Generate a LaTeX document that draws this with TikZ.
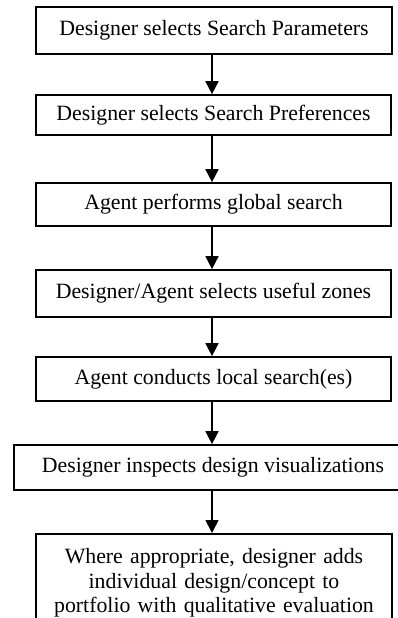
\documentclass[tikz,border=0pt]{standalone}
\usepackage{fontspec}
\setmainfont{Liberation Serif}
\usetikzlibrary{arrows.meta}
\begin{document}
\begin{tikzpicture}[x=1pt,y=-1pt,
  stepbox/.style={draw, line width=1.7pt, inner sep=0pt, align=center,
    font=\fontsize{21.8}{24.5}\selectfont},
  flow/.style={line width=1.7pt, -{Triangle[width=13pt,length=13pt]}}]
\path[use as bounding box] (0,0) rectangle (398,618);
\clip (0,0) rectangle (398,618);
% x position shared by all the arrows
\coordinate (ax) at (212,0);
\node[stepbox, minimum width=356pt, minimum height=47pt] (b1) at (214,30.5)
  {Designer selects Search Parameters};
\node[stepbox, minimum width=355pt, minimum height=40pt] (b2) at (213.5,115)
  {Designer selects Search Preferences};
\node[stepbox, minimum width=355pt, minimum height=43pt] (b3) at (213.5,204.5)
  {Agent performs global search};
\node[stepbox, minimum width=355pt, minimum height=47pt] (b4) at (213.5,293.5)
  {Designer/Agent selects useful zones};
\node[stepbox, minimum width=355pt, minimum height=44pt] (b5) at (213.5,379)
  {Agent conducts local search(es)};
\node[stepbox, minimum width=398pt, minimum height=45pt] (b6) at (213,467.5)
  {Designer inspects design visualizations};
\node[stepbox, anchor=north, minimum width=356pt, minimum height=110pt,
      text width=350pt, inner ysep=15pt, text depth=] (b7) at (214,533)
  {\vbox to 95pt{\hsize=350pt\centering Where appropriate, designer adds\\
   individual design/concept to\\
   portfolio with qualitative evaluation\vfil}};
% connectors
\draw[flow] (b1.south -| ax) -- (b2.north -| ax);
\draw[flow] (b2.south -| ax) -- (b3.north -| ax);
\draw[flow] (b3.south -| ax) -- (b4.north -| ax);
\draw[flow] (b4.south -| ax) -- (b5.north -| ax);
\draw[flow] (b5.south -| ax) -- (b6.north -| ax);
\draw[flow] (b6.south -| ax) -- (b7.north -| ax);
\end{tikzpicture}
\end{document}
